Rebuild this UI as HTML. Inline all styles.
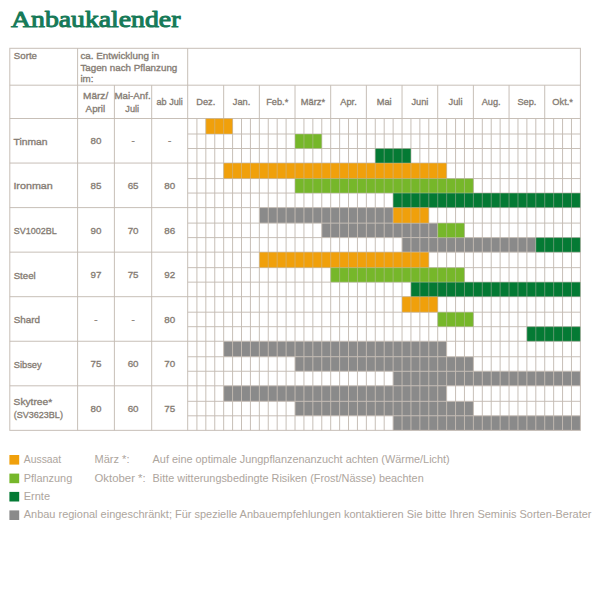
<!DOCTYPE html>
<html lang="de"><head><meta charset="utf-8"><title>Anbaukalender</title>
<style>html,body{margin:0;padding:0;background:#fff;}body{width:600px;height:600px;overflow:hidden;font-family:"Liberation Sans",sans-serif;}svg{display:block;}</style></head>
<body>
<svg width="600" height="600" viewBox="0 0 600 600">
<rect width="600" height="600" fill="#fff"/>
<text x="11.0" y="26.6" font-family="Liberation Serif, serif" font-weight="normal" font-size="23.3" fill="#167a58" stroke="#167a58" stroke-width="1.0" stroke-linejoin="round" textLength="169.4" lengthAdjust="spacingAndGlyphs">Anbaukalender</text>
<rect x="205.84" y="118.50" width="26.75" height="15.50" fill="#f0a00b"/>
<rect x="295.02" y="134.00" width="26.75" height="14.50" fill="#76b72a"/>
<rect x="375.28" y="148.50" width="35.67" height="14.55" fill="#047a34"/>
<rect x="223.67" y="163.05" width="222.95" height="15.50" fill="#f0a00b"/>
<rect x="295.02" y="178.55" width="178.36" height="14.50" fill="#76b72a"/>
<rect x="393.12" y="193.05" width="187.28" height="14.55" fill="#047a34"/>
<rect x="259.35" y="207.60" width="133.77" height="15.50" fill="#8a8a8a"/>
<rect x="393.12" y="207.60" width="35.67" height="15.50" fill="#f0a00b"/>
<rect x="321.77" y="223.10" width="115.94" height="14.50" fill="#8a8a8a"/>
<rect x="437.71" y="223.10" width="26.75" height="14.50" fill="#76b72a"/>
<rect x="402.04" y="237.60" width="133.77" height="14.55" fill="#8a8a8a"/>
<rect x="535.81" y="237.60" width="44.59" height="14.55" fill="#047a34"/>
<rect x="259.35" y="252.15" width="169.45" height="15.50" fill="#f0a00b"/>
<rect x="330.69" y="267.65" width="133.77" height="14.50" fill="#76b72a"/>
<rect x="410.95" y="282.15" width="169.45" height="14.55" fill="#047a34"/>
<rect x="402.04" y="296.70" width="35.67" height="15.50" fill="#f0a00b"/>
<rect x="437.71" y="312.20" width="35.67" height="14.50" fill="#76b72a"/>
<rect x="526.89" y="326.70" width="53.51" height="14.55" fill="#047a34"/>
<rect x="223.67" y="341.25" width="222.95" height="15.50" fill="#8a8a8a"/>
<rect x="295.02" y="356.75" width="178.36" height="14.50" fill="#8a8a8a"/>
<rect x="393.12" y="371.25" width="187.28" height="14.55" fill="#8a8a8a"/>
<rect x="223.67" y="385.80" width="222.95" height="15.50" fill="#8a8a8a"/>
<rect x="295.02" y="401.30" width="178.36" height="14.50" fill="#8a8a8a"/>
<rect x="393.12" y="415.80" width="187.28" height="14.55" fill="#8a8a8a"/>
<g stroke="#c3bbb2" stroke-opacity="0.94" stroke-width="1.0" fill="none">
<line x1="196.92" y1="118.5" x2="196.92" y2="430.35"/>
<line x1="205.84" y1="118.5" x2="205.84" y2="430.35"/>
<line x1="214.75" y1="118.5" x2="214.75" y2="430.35"/>
<line x1="223.67" y1="85.2" x2="223.67" y2="430.35"/>
<line x1="232.59" y1="118.5" x2="232.59" y2="430.35"/>
<line x1="241.51" y1="118.5" x2="241.51" y2="430.35"/>
<line x1="250.43" y1="118.5" x2="250.43" y2="430.35"/>
<line x1="259.35" y1="85.2" x2="259.35" y2="430.35"/>
<line x1="268.26" y1="118.5" x2="268.26" y2="430.35"/>
<line x1="277.18" y1="118.5" x2="277.18" y2="430.35"/>
<line x1="286.10" y1="118.5" x2="286.10" y2="430.35"/>
<line x1="295.02" y1="85.2" x2="295.02" y2="430.35"/>
<line x1="303.94" y1="118.5" x2="303.94" y2="430.35"/>
<line x1="312.85" y1="118.5" x2="312.85" y2="430.35"/>
<line x1="321.77" y1="118.5" x2="321.77" y2="430.35"/>
<line x1="330.69" y1="85.2" x2="330.69" y2="430.35"/>
<line x1="339.61" y1="118.5" x2="339.61" y2="430.35"/>
<line x1="348.53" y1="118.5" x2="348.53" y2="430.35"/>
<line x1="357.45" y1="118.5" x2="357.45" y2="430.35"/>
<line x1="366.36" y1="85.2" x2="366.36" y2="430.35"/>
<line x1="375.28" y1="118.5" x2="375.28" y2="430.35"/>
<line x1="384.20" y1="118.5" x2="384.20" y2="430.35"/>
<line x1="393.12" y1="118.5" x2="393.12" y2="430.35"/>
<line x1="402.04" y1="85.2" x2="402.04" y2="430.35"/>
<line x1="410.95" y1="118.5" x2="410.95" y2="430.35"/>
<line x1="419.87" y1="118.5" x2="419.87" y2="430.35"/>
<line x1="428.79" y1="118.5" x2="428.79" y2="430.35"/>
<line x1="437.71" y1="85.2" x2="437.71" y2="430.35"/>
<line x1="446.63" y1="118.5" x2="446.63" y2="430.35"/>
<line x1="455.55" y1="118.5" x2="455.55" y2="430.35"/>
<line x1="464.46" y1="118.5" x2="464.46" y2="430.35"/>
<line x1="473.38" y1="85.2" x2="473.38" y2="430.35"/>
<line x1="482.30" y1="118.5" x2="482.30" y2="430.35"/>
<line x1="491.22" y1="118.5" x2="491.22" y2="430.35"/>
<line x1="500.14" y1="118.5" x2="500.14" y2="430.35"/>
<line x1="509.05" y1="85.2" x2="509.05" y2="430.35"/>
<line x1="517.97" y1="118.5" x2="517.97" y2="430.35"/>
<line x1="526.89" y1="118.5" x2="526.89" y2="430.35"/>
<line x1="535.81" y1="118.5" x2="535.81" y2="430.35"/>
<line x1="544.73" y1="85.2" x2="544.73" y2="430.35"/>
<line x1="553.65" y1="118.5" x2="553.65" y2="430.35"/>
<line x1="562.56" y1="118.5" x2="562.56" y2="430.35"/>
<line x1="571.48" y1="118.5" x2="571.48" y2="430.35"/>
<line x1="187.7" y1="134.00" x2="580.4" y2="134.00"/>
<line x1="187.7" y1="148.50" x2="580.4" y2="148.50"/>
<line x1="187.7" y1="178.55" x2="580.4" y2="178.55"/>
<line x1="187.7" y1="193.05" x2="580.4" y2="193.05"/>
<line x1="9.8" y1="163.05" x2="580.4" y2="163.05"/>
<line x1="187.7" y1="223.10" x2="580.4" y2="223.10"/>
<line x1="187.7" y1="237.60" x2="580.4" y2="237.60"/>
<line x1="9.8" y1="207.60" x2="580.4" y2="207.60"/>
<line x1="187.7" y1="267.65" x2="580.4" y2="267.65"/>
<line x1="187.7" y1="282.15" x2="580.4" y2="282.15"/>
<line x1="9.8" y1="252.15" x2="580.4" y2="252.15"/>
<line x1="187.7" y1="312.20" x2="580.4" y2="312.20"/>
<line x1="187.7" y1="326.70" x2="580.4" y2="326.70"/>
<line x1="9.8" y1="296.70" x2="580.4" y2="296.70"/>
<line x1="187.7" y1="356.75" x2="580.4" y2="356.75"/>
<line x1="187.7" y1="371.25" x2="580.4" y2="371.25"/>
<line x1="9.8" y1="341.25" x2="580.4" y2="341.25"/>
<line x1="187.7" y1="401.30" x2="580.4" y2="401.30"/>
<line x1="187.7" y1="415.80" x2="580.4" y2="415.80"/>
<line x1="9.8" y1="385.80" x2="580.4" y2="385.80"/>
<rect x="9.8" y="48.3" width="570.60" height="382.05"/>
<line x1="9.8" y1="85.2" x2="580.4" y2="85.2"/>
<line x1="9.8" y1="118.5" x2="580.4" y2="118.5"/>
<line x1="77.6" y1="48.3" x2="77.6" y2="430.35"/>
<line x1="114.4" y1="85.2" x2="114.4" y2="430.35"/>
<line x1="151.7" y1="85.2" x2="151.7" y2="430.35"/>
<line x1="187.7" y1="48.3" x2="187.7" y2="430.35"/>
</g>
<rect x="205.84" y="118.50" width="26.75" height="15.50" fill="#f0a00b" fill-opacity="0.5"/>
<rect x="295.02" y="134.00" width="26.75" height="14.50" fill="#76b72a" fill-opacity="0.5"/>
<rect x="375.28" y="148.50" width="35.67" height="14.55" fill="#047a34" fill-opacity="0.5"/>
<rect x="223.67" y="163.05" width="222.95" height="15.50" fill="#f0a00b" fill-opacity="0.5"/>
<rect x="295.02" y="178.55" width="178.36" height="14.50" fill="#76b72a" fill-opacity="0.5"/>
<rect x="393.12" y="193.05" width="187.28" height="14.55" fill="#047a34" fill-opacity="0.5"/>
<rect x="393.12" y="207.60" width="35.67" height="15.50" fill="#f0a00b" fill-opacity="0.5"/>
<rect x="437.71" y="223.10" width="26.75" height="14.50" fill="#76b72a" fill-opacity="0.5"/>
<rect x="535.81" y="237.60" width="44.59" height="14.55" fill="#047a34" fill-opacity="0.5"/>
<rect x="259.35" y="252.15" width="169.45" height="15.50" fill="#f0a00b" fill-opacity="0.5"/>
<rect x="330.69" y="267.65" width="133.77" height="14.50" fill="#76b72a" fill-opacity="0.5"/>
<rect x="410.95" y="282.15" width="169.45" height="14.55" fill="#047a34" fill-opacity="0.5"/>
<rect x="402.04" y="296.70" width="35.67" height="15.50" fill="#f0a00b" fill-opacity="0.5"/>
<rect x="437.71" y="312.20" width="35.67" height="14.50" fill="#76b72a" fill-opacity="0.5"/>
<rect x="526.89" y="326.70" width="53.51" height="14.55" fill="#047a34" fill-opacity="0.5"/>
<g font-family="Liberation Sans, sans-serif" font-size="9.8" fill="#857c73" stroke="#857c73" stroke-width="0.33">
<text x="13.8" y="59.2" text-anchor="start" textLength="23.2" lengthAdjust="spacingAndGlyphs">Sorte</text>
<text x="80.4" y="59.0" text-anchor="start" textLength="78.9" lengthAdjust="spacingAndGlyphs">ca. Entwicklung in</text>
<text x="80.4" y="70.8" text-anchor="start" textLength="96.9" lengthAdjust="spacingAndGlyphs">Tagen nach Pflanzung</text>
<text x="80.4" y="82.3" text-anchor="start">im:</text>
<text x="95.6" y="99.3" text-anchor="middle" textLength="25.2" lengthAdjust="spacingAndGlyphs">März/</text>
<text x="95.4" y="111.5" text-anchor="middle">April</text>
<text x="132.5" y="99.3" text-anchor="middle" textLength="36.2" lengthAdjust="spacingAndGlyphs">Mai-Anf.</text>
<text x="132.2" y="111.5" text-anchor="middle" textLength="13.8" lengthAdjust="spacingAndGlyphs">Juli</text>
<text x="169.7" y="104.7" text-anchor="middle" textLength="26.3" lengthAdjust="spacingAndGlyphs">ab Juli</text>
<text x="205.8" y="104.8" text-anchor="middle" textLength="19.0" lengthAdjust="spacingAndGlyphs">Dez.</text>
<text x="241.5" y="104.8" text-anchor="middle" textLength="17.5" lengthAdjust="spacingAndGlyphs">Jan.</text>
<text x="277.2" y="104.8" text-anchor="middle" textLength="22.1" lengthAdjust="spacingAndGlyphs">Feb.*</text>
<text x="312.9" y="104.8" text-anchor="middle" textLength="24.2" lengthAdjust="spacingAndGlyphs">März*</text>
<text x="348.5" y="104.8" text-anchor="middle" textLength="16.5" lengthAdjust="spacingAndGlyphs">Apr.</text>
<text x="384.2" y="104.8" text-anchor="middle" textLength="14.9" lengthAdjust="spacingAndGlyphs">Mai</text>
<text x="419.9" y="104.8" text-anchor="middle" textLength="17.0" lengthAdjust="spacingAndGlyphs">Juni</text>
<text x="455.5" y="104.8" text-anchor="middle" textLength="13.9" lengthAdjust="spacingAndGlyphs">Juli</text>
<text x="491.2" y="104.8" text-anchor="middle" textLength="19.0" lengthAdjust="spacingAndGlyphs">Aug.</text>
<text x="526.9" y="104.8" text-anchor="middle" textLength="19.0" lengthAdjust="spacingAndGlyphs">Sep.</text>
<text x="562.6" y="104.8" text-anchor="middle" textLength="20.6" lengthAdjust="spacingAndGlyphs">Okt.*</text>
<text x="13.6" y="144.8" text-anchor="start" textLength="34.0" lengthAdjust="spacingAndGlyphs">Tinman</text>
<text x="96.0" y="144.3" text-anchor="middle">80</text>
<text x="133.1" y="144.3" text-anchor="middle">-</text>
<text x="169.7" y="144.3" text-anchor="middle">-</text>
<text x="13.4" y="189.3" text-anchor="start" textLength="39.4" lengthAdjust="spacingAndGlyphs">Ironman</text>
<text x="96.0" y="188.9" text-anchor="middle">85</text>
<text x="133.1" y="188.9" text-anchor="middle">65</text>
<text x="169.7" y="188.9" text-anchor="middle">80</text>
<text x="13.7" y="233.9" text-anchor="start" textLength="43.0" lengthAdjust="spacingAndGlyphs">SV1002BL</text>
<text x="96.0" y="233.5" text-anchor="middle">90</text>
<text x="133.1" y="233.5" text-anchor="middle">70</text>
<text x="169.7" y="233.5" text-anchor="middle">86</text>
<text x="13.7" y="278.6" text-anchor="start" textLength="22.0" lengthAdjust="spacingAndGlyphs">Steel</text>
<text x="96.0" y="278.1" text-anchor="middle">97</text>
<text x="133.1" y="278.1" text-anchor="middle">75</text>
<text x="169.7" y="278.1" text-anchor="middle">92</text>
<text x="13.7" y="323.1" text-anchor="start" textLength="26.4" lengthAdjust="spacingAndGlyphs">Shard</text>
<text x="96.0" y="322.7" text-anchor="middle">-</text>
<text x="133.1" y="322.7" text-anchor="middle">-</text>
<text x="169.7" y="322.7" text-anchor="middle">80</text>
<text x="13.7" y="367.8" text-anchor="start" textLength="28.0" lengthAdjust="spacingAndGlyphs">Sibsey</text>
<text x="96.0" y="367.3" text-anchor="middle">75</text>
<text x="133.1" y="367.3" text-anchor="middle">60</text>
<text x="169.7" y="367.3" text-anchor="middle">70</text>
<text x="13.6" y="404.7" text-anchor="start" textLength="38.6" lengthAdjust="spacingAndGlyphs">Skytree*</text>
<text x="13.7" y="418.0" text-anchor="start" textLength="49.2" lengthAdjust="spacingAndGlyphs">(SV3623BL)</text>
<text x="96.0" y="411.9" text-anchor="middle">80</text>
<text x="133.1" y="411.9" text-anchor="middle">60</text>
<text x="169.7" y="411.9" text-anchor="middle">75</text>
</g>
<rect x="9.4" y="455.0" width="9.8" height="9.6" fill="#f0a00b"/>
<rect x="9.4" y="473.6" width="9.8" height="9.6" fill="#76b72a"/>
<rect x="9.4" y="491.9" width="9.8" height="9.6" fill="#047a34"/>
<rect x="9.4" y="510.4" width="9.8" height="9.6" fill="#8a8a8a"/>
<g font-family="Liberation Sans, sans-serif" font-size="10.4" fill="#ada59d">
<text x="23.75" y="463.0" text-anchor="start" textLength="37.5" lengthAdjust="spacingAndGlyphs">Aussaat</text>
<text x="23.75" y="481.5" text-anchor="start" textLength="48.5" lengthAdjust="spacingAndGlyphs">Pflanzung</text>
<text x="23.75" y="499.9" text-anchor="start" textLength="26.3" lengthAdjust="spacingAndGlyphs">Ernte</text>
<text x="23.75" y="518.4" text-anchor="start" textLength="567.7" lengthAdjust="spacingAndGlyphs">Anbau regional eingeschränkt; Für spezielle Anbauempfehlungen kontaktieren Sie bitte Ihren Seminis Sorten-Berater</text>
<text x="94.5" y="463.0" text-anchor="start" textLength="35" lengthAdjust="spacingAndGlyphs">März *:</text>
<text x="94.5" y="481.5" text-anchor="start" textLength="51.2" lengthAdjust="spacingAndGlyphs">Oktober *:</text>
<text x="152.6" y="463.0" text-anchor="start" textLength="297.1" lengthAdjust="spacingAndGlyphs">Auf eine optimale Jungpflanzenanzucht achten (Wärme/Licht)</text>
<text x="152.6" y="481.5" text-anchor="start" textLength="271.1" lengthAdjust="spacingAndGlyphs">Bitte witterungsbedingte Risiken (Frost/Nässe) beachten</text>
</g>
</svg>
</body></html>
